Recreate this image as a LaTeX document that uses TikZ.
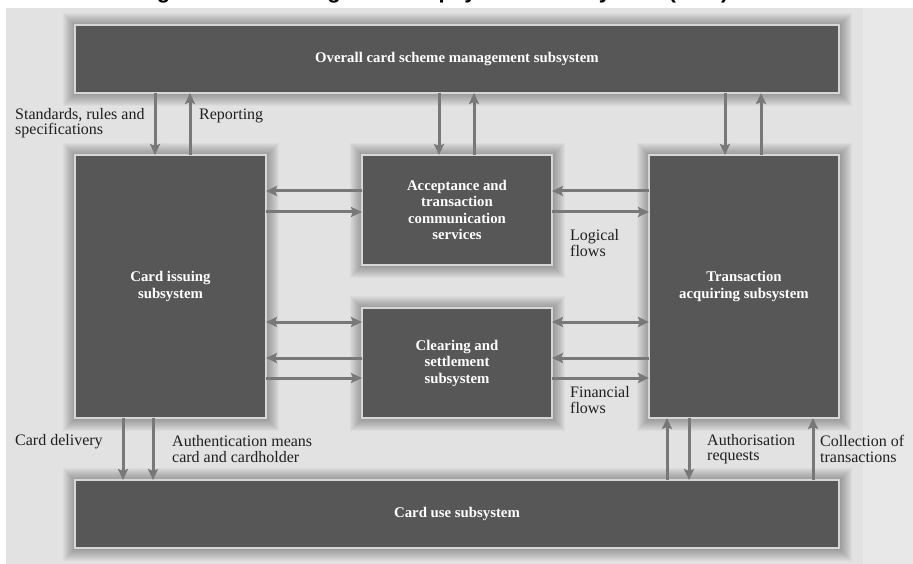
\documentclass[tikz,border=0pt]{standalone}
\usepackage{fontspec}
\setmainfont{Liberation Serif}
\newfontfamily\titlefont{Liberation Sans}
\usetikzlibrary{arrows.meta,calc,backgrounds}
\definecolor{bgc}{HTML}{E2E2E2}
\definecolor{bgl}{HTML}{E8E8E8}
\definecolor{boxc}{HTML}{575757}
\definecolor{arrc}{HTML}{787878}
\definecolor{edgec}{HTML}{D6D6D6}
\begin{document}
\begin{tikzpicture}[x=1pt,y=-1pt,
  sbox/.style={draw=edgec, line width=1.2pt, fill=boxc, text=white,
    font=\bfseries\fontsize{14.8}{16.5}\selectfont, align=center,
    inner sep=0pt, outer sep=0pt, anchor=north west},
  arr/.style={draw=arrc, line width=3pt, -{Stealth[length=11pt,width=10pt,inset=2pt]}},
  darr/.style={draw=arrc, line width=3pt, {Stealth[length=11pt,width=10pt,inset=2pt]}-{Stealth[length=11pt,width=10pt,inset=2pt]}},
  lbl/.style={font=\fontsize{16}{15.5}\selectfont, text=black!88, align=left,
    inner sep=0pt, anchor=west}]
\useasboundingbox (0,0) rectangle (913,564);

% boxes
\node[sbox, minimum width=764pt, minimum height=68pt] (top) at (75,25) {Overall card scheme management subsystem};
\node[sbox, minimum width=191pt, minimum height=263pt] (issue) at (75,155) {Card issuing\\subsystem};
\node[sbox, minimum width=190pt, minimum height=110pt] (acc) at (362,155) {Acceptance and\\transaction\\communication\\services};
\node[sbox, minimum width=190pt, minimum height=110pt] (clear) at (362,308) {Clearing and\\settlement\\subsystem};
\node[sbox, minimum width=190pt, minimum height=263pt] (trans) at (649,155) {Transaction\\acquiring subsystem};
\node[sbox, minimum width=764pt, minimum height=68pt] (use) at (75,480) {Card use subsystem};

% background and soft shadows
\begin{scope}[on background layer]
  \fill[white] (0,0) rectangle (913,564);
  \fill[bgc] (6,8) rectangle (913,564);
  \fill[bgl] (863,8) rectangle (913,564);
  \foreach \n in {top,issue,acc,clear,trans,use}{
    \foreach \i in {1,...,12}{
      \fill[black, fill opacity=0.028] ($(\n.north west)+(-\i,-\i)$) rectangle ($(\n.south east)+(\i+1,\i+1)$);
    }
  }
\end{scope}

% title (cut off at the top)
\begin{scope}
  \clip (0,0) rectangle (913,8);
  \node[font=\titlefont\bfseries\fontsize{22}{24}\selectfont, anchor=base west, inner sep=0pt] (title) at (137,-1) {Figure 1: Modelling the card payments subsystem (CPS)};
\end{scope}

% vertical arrows top
\coordinate (ta1) at ([xshift=80pt]issue.north west);
\coordinate (ta2) at ([xshift=115pt]issue.north west);
\coordinate (tb1) at ([xshift=77pt]acc.north west);
\coordinate (tb2) at ([xshift=112pt]acc.north west);
\coordinate (tc1) at ([xshift=76pt]trans.north west);
\coordinate (tc2) at ([xshift=112pt]trans.north west);
\draw[arr] (top.south -| ta1) -- (ta1);
\draw[arr] (ta2) -- (top.south -| ta2);
\draw[arr] (top.south -| tb1) -- (tb1);
\draw[arr] (tb2) -- (top.south -| tb2);
\draw[arr] (top.south -| tc1) -- (tc1);
\draw[arr] (tc2) -- (top.south -| tc2);

% horizontal arrows left
\coordinate (h1) at ([yshift=-36pt]acc.north west);
\coordinate (h2) at ([yshift=-57pt]acc.north west);
\coordinate (h3) at ([yshift=-14pt]clear.north west);
\coordinate (h4) at ([yshift=-50pt]clear.north west);
\coordinate (h5) at ([yshift=-70pt]clear.north west);
\draw[arr] (h1) -- (issue.east |- h1);
\draw[arr] (issue.east |- h2) -- (h2);
\draw[darr] (issue.east |- h3) -- (h3);
\draw[arr] (h4) -- (issue.east |- h4);
\draw[arr] (issue.east |- h5) -- (h5);

% horizontal arrows right
\coordinate (k1) at ([yshift=-36pt]trans.north west);
\coordinate (k2) at ([yshift=-57pt]trans.north west);
\coordinate (k3) at ([yshift=-167pt]trans.north west);
\coordinate (k4) at ([yshift=-203pt]trans.north west);
\coordinate (k5) at ([yshift=-223pt]trans.north west);
\draw[arr] (k1) -- (acc.east |- k1);
\draw[arr] (acc.east |- k2) -- (k2);
\draw[darr] (clear.east |- k3) -- (k3);
\draw[arr] (k4) -- (clear.east |- k4);
\draw[arr] (clear.east |- k5) -- (k5);

% vertical arrows bottom
\coordinate (b1) at ([xshift=48pt]use.north west);
\coordinate (b2) at ([xshift=78pt]use.north west);
\coordinate (b3) at ([xshift=18pt]trans.south west);
\coordinate (b4) at ([xshift=40pt]trans.south west);
\coordinate (b5) at ([xshift=164pt]trans.south west);
\draw[arr] (issue.south -| b1) -- (b1);
\draw[arr] (issue.south -| b2) -- (b2);
\draw[arr] (use.north -| b3) -- (b3);
\draw[arr] (b4) -- (use.north -| b4);
\draw[arr] (use.north -| b5) -- (b5);

% labels
\node[lbl] (l1) at (15,123) {Standards, rules and\\specifications};
\node[lbl] (l2) at (199,116) {Reporting};
\node[lbl] (l3) at (570,243) {Logical\\flows};
\node[lbl] (l4) at (570,400) {Financial\\flows};
\node[lbl] (l5) at (15,442) {Card delivery};
\node[lbl] (l6) at (172,449) {Authentication means\\card and cardholder};
\node[lbl] (l7) at (707,449) {Authorisation\\requests};
\node[lbl] (l8) at (820,449) {Collection of\\transactions};
\end{tikzpicture}
\end{document}
